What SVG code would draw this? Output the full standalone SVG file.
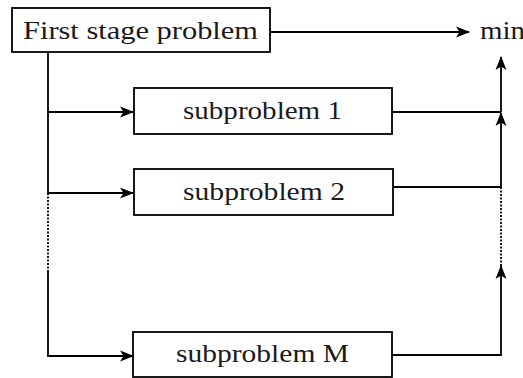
<svg xmlns="http://www.w3.org/2000/svg" width="523" height="378" viewBox="0 0 523 378">
<style>
.box{fill:#fff;stroke:#000;stroke-width:1.8}
.t{font-family:"Liberation Serif","Times New Roman",serif;font-size:26px;fill:#1a1a1a}
.c{fill:none;stroke:#000;stroke-width:1.8}
.d{fill:none;stroke:#000;stroke-width:1.8;stroke-dasharray:2 1.5}
</style>
<defs>
<marker id="ar" viewBox="0 0 14 12" refX="13" refY="6" markerWidth="14" markerHeight="12" markerUnits="userSpaceOnUse" orient="auto">
<path d="M0,0.5 L14,6 L0,11.5 L3.5,6 Z" fill="#000"/>
</marker>
</defs>
<g id="connectors">
<path class="c" d="M270,32 H469" marker-end="url(#ar)"/>
<path class="c" d="M48,52 V193"/>
<path class="c" d="M48,112 H133" marker-end="url(#ar)"/>
<path class="c" d="M48,193 H133" marker-end="url(#ar)"/>
<path class="d" d="M48,193 V270"/>
<path class="c" d="M48,270 V356 H133" marker-end="url(#ar)"/>
<path class="c" d="M392,112 H501"/>
<path class="c" d="M501,112 V57" marker-end="url(#ar)"/>
<path class="c" d="M393,187 H501 V113" marker-end="url(#ar)"/>
<path class="d" d="M501,187 V266"/>
<path class="c" d="M392,355 H501 V266" marker-end="url(#ar)"/>
</g>
<g id="first">
<rect class="box" x="12" y="8" width="258" height="44"/>
<text class="t" x="23" y="39" textLength="235" lengthAdjust="spacingAndGlyphs">First stage problem</text>
</g>
<g id="min">
<text class="t" x="480" y="39" textLength="45" lengthAdjust="spacingAndGlyphs">min</text>
</g>
<g id="sub1">
<rect class="box" x="134" y="88" width="258" height="46"/>
<text class="t" x="183" y="119" textLength="159" lengthAdjust="spacingAndGlyphs">subproblem 1</text>
</g>
<g id="sub2">
<rect class="box" x="134" y="169" width="259" height="46"/>
<text class="t" x="183" y="200" textLength="162" lengthAdjust="spacingAndGlyphs">subproblem 2</text>
</g>
<g id="subM">
<rect class="box" x="133" y="332" width="259" height="45"/>
<text class="t" x="176" y="362" textLength="173" lengthAdjust="spacingAndGlyphs">subproblem M</text>
</g>
</svg>
